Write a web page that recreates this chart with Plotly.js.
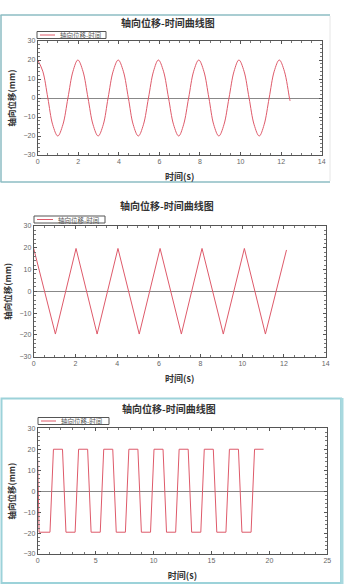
<!DOCTYPE html>
<html>
<head>
<meta charset="utf-8">
<script src="https://cdn.plot.ly/plotly-3.0.1.min.js"></script>
<style>html,body{margin:0;padding:0;background:#fff;}#chart{width:364px;height:585px;}</style>
</head>
<body>
<div id="chart"></div>
<script>
// ---- data ----
const chartTitle = '轴向位移-时间曲线图';
const seriesName = '轴向位移-时间';
const xTitle = '时间(s)';
const yTitle = '轴向位移(mm)';
const yTicks = [-30, -20, -10, 0, 10, 20, 30];

// sine-shaped displacement
const sineTime = [0, 0.25, 0.50, 0.74, 0.99, 1.24, 1.49, 1.74, 1.98, 2.23, 2.48, 2.73, 2.98, 3.23, 3.47, 3.72, 3.97, 4.22, 4.47, 4.71, 4.96, 5.21, 5.46, 5.71, 5.95, 6.20, 6.45, 6.70, 6.95, 7.19, 7.44, 7.69, 7.94, 8.19, 8.44, 8.68, 8.93, 9.18, 9.43, 9.68, 9.92, 10.17, 10.42, 10.67, 10.92, 11.16, 11.41, 11.66, 11.91, 12.16, 12.41, 12.44];
const sineDisp = [20, 14.1, 0, -14.1, -20, -14.1, 0, 14.1, 20, 14.1, 0, -14.1, -20, -14.1, 0, 14.1, 20, 14.1, 0, -14.1, -20, -14.1, 0, 14.1, 20, 14.1, 0, -14.1, -20, -14.1, 0, 14.1, 20, 14.1, 0, -14.1, -20, -14.1, 0, 14.1, 20, 14.1, 0, -14.1, -20, -14.1, 0, 14.1, 20, 14.1, 0, -1.5];

// triangle-shaped displacement
const triTime = [0, 1.04, 2.03, 3.04, 4.04, 5.06, 6.06, 7.08, 8.07, 9.09, 10.10, 11.11, 12.12];
const triDisp = [19.7, -19.6, 19.7, -19.6, 19.7, -19.6, 19.7, -19.6, 19.7, -19.6, 19.7, -19.6, 19];

// square-shaped displacement
const sqTime = [0, 0.12, 1.06, 1.36, 2.14, 2.44, 3.23, 3.53, 4.31, 4.61, 5.40, 5.70, 6.48, 6.78, 7.57, 7.87, 8.65, 8.95, 9.74, 10.04, 10.82, 11.12, 11.91, 12.21, 12.99, 13.29, 14.08, 14.38, 15.16, 15.46, 16.25, 16.55, 17.33, 17.63, 18.42, 18.72, 19.5];
const sqDisp = [15, -19.6, -19.6, 20, 20, -19.6, -19.6, 20, 20, -19.6, -19.6, 20, 20, -19.6, -19.6, 20, 20, -19.6, -19.6, 20, 20, -19.6, -19.6, 20, 20, -19.6, -19.6, 20, 20, -19.6, -19.6, 20, 20, -19.6, -19.6, 20, 20];

// ---- styling ----
const W = 364, H = 585;
const px = v => v / W;
const py = v => 1 - v / H;
const RED = '#de5a6a';
const CJK = '"Noto Sans CJK SC", "Liberation Sans", sans-serif';
const TICKF = {family: '"Liberation Sans", Arial, sans-serif', size: 7, color: '#666'};

function xAxis(domain, anchor, range, dtick, minorD) {
  return {
    domain: domain, anchor: anchor, range: range, dtick: dtick, tick0: 0,
    showline: true, linecolor: '#555', linewidth: 1, mirror: 'allticks',
    ticks: 'inside', ticklen: 3, tickcolor: '#555', tickwidth: 1,
    minor: {dtick: minorD, ticks: 'inside', ticklen: 2, tickcolor: '#777'},
    showgrid: false, zeroline: false, tickfont: TICKF,
    title: {text: xTitle, font: {family: CJK, size: 9, color: '#333', weight: 'bold'}, standoff: 9},
    fixedrange: true
  };
}
function yAxis(domain, anchor) {
  return {
    domain: domain, anchor: anchor, range: [-30, 30], tickvals: yTicks,
    showline: true, linecolor: '#555', linewidth: 1, mirror: 'allticks',
    ticks: 'inside', ticklen: 3, tickcolor: '#555', tickwidth: 1,
    minor: {dtick: 2, tick0: 0, ticks: 'inside', ticklen: 2, tickcolor: '#777'},
    showgrid: false, zeroline: true, zerolinecolor: '#888', zerolinewidth: 1,
    tickfont: TICKF,
    title: {text: yTitle, font: {family: CJK, size: 8.5, color: '#333', weight: 'bold'}, standoff: 6},
    fixedrange: true
  };
}

// small hand-drawn legend boxes (box left, box top, box right, line end)
function legendParts(x0, y0, x1, lineEnd) {
  const ym = y0 + 3.5;
  return {
    shapes: [
      {type: 'rect', xref: 'paper', yref: 'paper', x0: px(x0), x1: px(x1), y0: py(y0), y1: py(y0 + 7),
       line: {color: '#555', width: 1}, fillcolor: '#fff'},
      {type: 'line', xref: 'paper', yref: 'paper', x0: px(x0 + 3), x1: px(lineEnd), y0: py(ym), y1: py(ym),
       line: {color: RED, width: 1}}
    ],
    ann: {text: seriesName, xref: 'paper', yref: 'paper', x: px(lineEnd + 3), y: py(ym),
          xanchor: 'left', yanchor: 'middle', showarrow: false,
          font: {family: CJK, size: 6.5, color: '#555'}}
  };
}
const lg1 = legendParts(37, 31.5, 106, 55);
const lg2 = legendParts(34, 216, 105, 53);
const lg3 = legendParts(38, 417.5, 109, 56);

const traces = [
  {x: sineTime, y: sineDisp, xaxis: 'x', yaxis: 'y', name: seriesName, mode: 'lines',
   line: {color: RED, width: 1, shape: 'spline', smoothing: 1}},
  {x: triTime, y: triDisp, xaxis: 'x2', yaxis: 'y2', name: seriesName, mode: 'lines',
   line: {color: RED, width: 1}},
  {x: sqTime, y: sqDisp, xaxis: 'x3', yaxis: 'y3', name: seriesName, mode: 'lines',
   line: {color: RED, width: 1}}
];

const titleFont = {family: CJK, size: 10, color: '#333', weight: 'bold'};
function titleAnn(x, y) {
  return {text: chartTitle, xref: 'paper', yref: 'paper', x: px(x), y: py(y),
          xanchor: 'center', yanchor: 'middle', showarrow: false, font: titleFont};
}
const layout = {
  width: W, height: H,
  margin: {l: 0, r: 0, t: 0, b: 0},
  paper_bgcolor: '#fff', plot_bgcolor: '#fff',
  showlegend: false,
  xaxis: xAxis([px(37.7), px(321.7)], 'y', [0, 14], 2, 0.5),
  yaxis: yAxis([py(155), py(41)], 'x'),
  xaxis2: xAxis([px(33.7), px(325.7)], 'y2', [0, 14], 2, 0.5),
  yaxis2: yAxis([py(356.7), py(226)], 'x2'),
  xaxis3: xAxis([px(37.7), px(327.3)], 'y3', [0, 25], 5, 1),
  yaxis3: yAxis([py(554), py(428.3)], 'x3'),
  annotations: [
    titleAnn(167.5, 23), titleAnn(166.7, 205), titleAnn(169, 408),
    lg1.ann, lg2.ann, lg3.ann
  ],
  shapes: [
    // frame 1
    {type: 'line', xref: 'paper', yref: 'paper', x0: px(0.5), x1: px(330), y0: py(15), y1: py(15), line: {color: '#8dbcc3', width: 1.5}},
    {type: 'line', xref: 'paper', yref: 'paper', x0: px(1), x1: px(1), y0: py(15), y1: py(182), line: {color: '#8dbcc3', width: 1.5}},
    {type: 'line', xref: 'paper', yref: 'paper', x0: px(0.5), x1: px(330), y0: py(182), y1: py(182), line: {color: '#8dbcc3', width: 1.5}},
    {type: 'line', xref: 'paper', yref: 'paper', x0: px(330), x1: px(330), y0: py(16), y1: py(181), line: {color: '#e6e6e6', width: 1}},
    // frame 3
    {type: 'rect', xref: 'paper', yref: 'paper', x0: px(1.5), x1: px(341), y0: py(398.5), y1: py(583), line: {color: '#9cd2d9', width: 2}},
    {type: 'line', xref: 'paper', yref: 'paper', x0: px(342), x1: px(342), y0: py(398), y1: py(584), line: {color: '#a8d9df', width: 3}}
  ].concat(lg1.shapes, lg2.shapes, lg3.shapes)
};

Plotly.newPlot('chart', traces, layout, {displayModeBar: false, staticPlot: true});
</script>
</body>
</html>
